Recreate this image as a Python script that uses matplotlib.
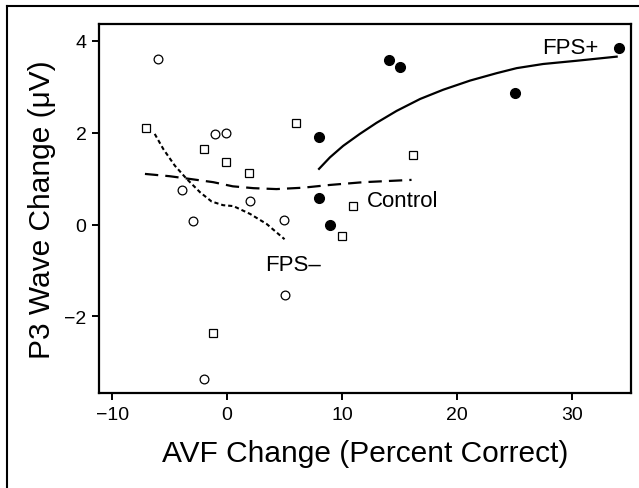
import matplotlib
matplotlib.use("Agg")
import matplotlib.pyplot as plt
from matplotlib.lines import Line2D

plt.rcParams['font.family'] = ['Liberation Sans', 'DejaVu Sans']

# FPS- group (open circles)
fps_minus_x = [-6.0, -1.05, -0.1, -3.9, -3.0, 1.95, 4.95, 5.05, -2.0]
fps_minus_y = [3.60, 1.96, 2.0, 0.76, 0.08, 0.52, 0.10, -1.53, -3.36]

# Control group (open squares)
control_x = [-7.05, -2.0, -0.1, 1.9, 6.0, 16.15, 10.95, 10.0, -1.2]
control_y = [2.10, 1.64, 1.35, 1.12, 2.20, 1.52, 0.41, -0.24, -2.35]

# FPS+ group (filled circles)
fps_plus_x = [34.1, 14.1, 15.05, 25.05, 8.0, 8.0, 8.95]
fps_plus_y = [3.84, 3.58, 3.43, 2.86, 1.90, 0.57, 0.0]

# smoothed fits
fit_plus_x = [8.0, 8.95, 10.1, 11.55, 13.0, 14.75, 16.8, 18.8, 21.15, 23.45, 25.2, 27.5, 30.4, 33.9]
fit_plus_y = [1.21, 1.46, 1.71, 1.97, 2.21, 2.47, 2.73, 2.93, 3.13, 3.29, 3.40, 3.49, 3.56, 3.65]

fit_ctrl_x = [-7.15, -5.0, -3.5, -1.2, 0.5, 2.3, 4.3, 6.6, 8.95, 11.85, 16.05]
fit_ctrl_y = [1.10, 1.05, 1.00, 0.92, 0.83, 0.79, 0.77, 0.80, 0.86, 0.92, 0.97]

fit_minus_x = [-6.3, -5.55, -4.55, -3.55, -2.35, -1.35, -0.35, 0.55, 2.0, 3.45, 5.0]
fit_minus_y = [1.97, 1.64, 1.28, 1.00, 0.70, 0.50, 0.42, 0.40, 0.23, 0.01, -0.32]

fig = plt.figure(figsize=(6.39, 4.89), dpi=100)
ax = fig.add_axes([0.1549, 0.1937, 0.8326, 0.7552])

ax.plot(fit_plus_x, fit_plus_y, color='black', lw=1.6)
ax.plot(fit_ctrl_x, fit_ctrl_y, color='black', lw=1.6, dashes=(6, 3.2))
ax.plot(fit_minus_x, fit_minus_y, color='black', lw=1.5, dashes=(2, 1.4))

ax.plot(fps_minus_x, fps_minus_y, 'o', ms=6.3, mfc='white', mec='black', mew=0.9)
ax.plot(control_x, control_y, 's', ms=5.6, mfc='white', mec='black', mew=0.9)
ax.plot(fps_plus_x, fps_plus_y, 'o', ms=7, mfc='black', mec='black')

ax.text(29.85, 3.85, 'FPS+', fontsize=16, ha='center', va='center')
ax.text(12.2, 0.53, 'Control', fontsize=16, ha='left', va='center')
ax.text(3.35, -0.86, 'FPS\u2013', fontsize=16, ha='left', va='center')

ax.set_xlim(-11.15, 35.15)
ax.set_ylim(-3.67, 4.36)
ax.set_xticks([-10, 0, 10, 20, 30])
ax.set_yticks([-2, 0, 2, 4])
ax.set_xticklabels(['\u221210', '0', '10', '20', '30'])
ax.set_yticklabels(['\u22122', '0', '2', '4'])
ax.tick_params(direction='out', length=5, width=1.4, labelsize=14, pad=4)
for s in ax.spines.values():
    s.set_linewidth(1.6)

ax.set_xlabel('AVF Change (Percent Correct)', fontsize=21.5, labelpad=12)
ax.set_ylabel('P3 Wave Change (\u03bcV)', fontsize=21.5, labelpad=6)

# outer frame (top and left only, as in the source)
fig.add_artist(Line2D([7 / 639, 7 / 639], [0, 1 - 7 / 489], transform=fig.transFigure, color='black', lw=1.5))
fig.add_artist(Line2D([7 / 639, 1], [1 - 7 / 489, 1 - 7 / 489], transform=fig.transFigure, color='black', lw=1.5))

fig.savefig('out.png', dpi=100)
